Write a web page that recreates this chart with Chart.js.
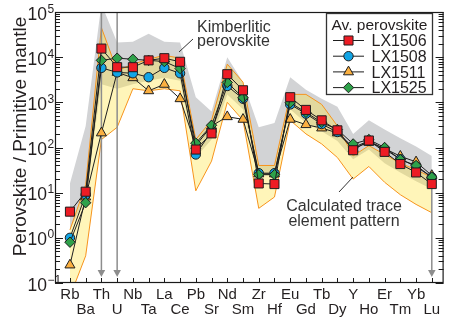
<!DOCTYPE html>
<html>
<head>
<meta charset="utf-8">
<script src="https://cdn.jsdelivr.net/npm/chart.js@4/dist/chart.umd.min.js"></script>
<style>
  html, body { margin: 0; padding: 0; background: #fff; }
  #wrap { width: 451px; height: 325px; }
</style>
</head>
<body>
<div id="wrap"><canvas id="c" width="451" height="325"></canvas></div>
<script>
// Elements in spider-diagram order (primitive-mantle normalised)
const elements = ['Rb','Ba','Th','U','Nb','Ta','La','Ce','Pb','Sr','Nd','Sm','Zr','Hf','Eu','Gd','Tb','Dy','Y','Ho','Er','Tm','Yb','Lu'];

// Average perovskite compositions
const lx1506 = [3.8, 10.5, 15500, 6000, 6000, 8500, 9500, 7900, 90, 205, 4200, 1850, 16, 15.5, 1300, 680, 400, 240, 87, 143, 80, 43, 28, 15.5];
const lx1508 = [1.0, 9, 5800, 4600, 4400, 3600, 5800, 4400, 70, 230, 2300, 1200, 27, 27, 900, 560, 330, 220, 100, 140, 92, 55, 38, 22];
const lx1511 = [0.25, 8, 210, 4600, 3500, 1800, 2500, 1200, 110, 300, 480, 420, 26, 26, 420, 320, 270, 210, 95, 130, 95, 64, 48, 24];
const lx1525 = [0.8, 6, 8500, 9500, 9000, 8500, 8000, 5600, 125, 310, 2750, 1270, 25, 25, 980, 600, 360, 250, 120, 150, 100, 54, 40, 22];

// Field of kimberlitic perovskite (upper / lower envelope)
const kimUpper = [16, 300, 150000, 21000, 22000, 33000, 22000, 21000, 1300, 630, 10000, 2800, 280, 350, 3600, 1900, 1200, 800, 200, 400, 250, 160, 105, 65];
const kimLower = [1.5, 8, 2500, 2000, 2500, 3000, 3500, 3000, 60, 150, 1500, 700, 25, 25, 700, 350, 230, 140, 55, 90, 45, 28, 18, 12];

// Calculated trace element pattern (upper / lower envelope)
const calcUpper = [1.5, 15, 45000, 5000, 7000, 9000, 11000, 9500, 150, 400, 7000, 2800, 40, 40, 1500, 1500, 900, 300, 65, 110, 70, 45, 32, 22];
const calcLower = [0.05, 0.4, 150, 280, 2000, 1800, 2000, 1800, 11, 50, 1000, 400, 4.5, 8, 400, 200, 120, 60, 20, 38, 17, 9, 5.5, 3.6];

// Decades shown on the y axis
const yExponents = [-1, 0, 1, 2, 3, 4, 5];

const FONT = "'Liberation Sans', Arial, Helvetica, sans-serif";
const pts = arr => arr.map((v, i) => ({ x: i, y: v }));

function series(label, data, style, color, radius, order) {
  return {
    label, data: pts(data), order,
    borderColor: '#1e1e1e', borderWidth: 1, tension: 0, fill: false,
    pointStyle: style, pointRadius: radius, pointHoverRadius: radius,
    pointBackgroundColor: color, pointBorderColor: '#1e1e1e', pointBorderWidth: 1
  };
}

const seriesDefs = [
  series('LX1506', lx1506, 'rect', '#ed1c24', 6.4, 1),
  series('LX1525', lx1525, 'rectRot', '#2ea14a', 5.2, 2),
  series('LX1508', lx1508, 'circle', '#12a5e6', 4.7, 3),
  series('LX1511', lx1511, 'triangle', '#fbb040', 5.8, 4)
];

const bands = [
  { label: 'kimUpper', data: pts(kimUpper), order: 20, fill: '+1', backgroundColor: '#d2d3d5',
    borderColor: 'transparent', borderWidth: 0, pointRadius: 0, tension: 0 },
  { label: 'kimLower', data: pts(kimLower), order: 19, fill: false,
    borderColor: 'transparent', borderWidth: 0, pointRadius: 0, tension: 0 },
  { label: 'calcUpper', data: pts(calcUpper), order: 18, fill: '+1', backgroundColor: 'rgba(255,228,60,0.36)',
    borderColor: '#f7941d', borderWidth: 1, pointRadius: 0, tension: 0 },
  { label: 'calcLower', data: pts(calcLower), order: 17, fill: false,
    borderColor: '#f7941d', borderWidth: 1, pointRadius: 0, tension: 0 }
];

function drawArrow(ctx, x, y0, y1) {
  ctx.save();
  ctx.strokeStyle = '#8d8d8d';
  ctx.fillStyle = '#8d8d8d';
  ctx.lineWidth = 1.5;
  ctx.beginPath();
  ctx.moveTo(x, y0);
  ctx.lineTo(x, y1 - 6);
  ctx.stroke();
  ctx.beginPath();
  ctx.moveTo(x - 3.8, y1 - 7);
  ctx.lineTo(x + 3.8, y1 - 7);
  ctx.lineTo(x, y1);
  ctx.closePath();
  ctx.fill();
  ctx.restore();
}

function drawMarker(ctx, style, color, radius, x, y) {
  ctx.save();
  ctx.fillStyle = color;
  ctx.strokeStyle = '#1e1e1e';
  ctx.lineWidth = 1;
  Chart.helpers.drawPoint(ctx, { pointStyle: style, radius, rotation: 0, borderWidth: 1 }, x, y);
  ctx.restore();
}

const decor = {
  id: 'decor',
  afterDatasetDraw(chart, args) {
    if (chart.data.datasets[args.index].label !== 'calcLower') return;
    const { ctx, chartArea: a } = chart;
    const xs = chart.scales.x, ys = chart.scales.y;
    drawArrow(ctx, xs.getPixelForValue(elements.indexOf('Th')), a.top, a.bottom - 6);
    drawArrow(ctx, xs.getPixelForValue(elements.indexOf('U')), a.top, a.bottom - 6);
    const lu = elements.indexOf('Lu');
    drawArrow(ctx, xs.getPixelForValue(lu), ys.getPixelForValue(lx1506[lu]), a.bottom - 6);
  },
  afterDraw(chart) {
    const { ctx, chartArea: a } = chart;
    const xs = chart.scales.x, ys = chart.scales.y;
    ctx.save();

    // frame
    ctx.strokeStyle = '#1a1a1a';
    ctx.lineWidth = 1.2;
    ctx.strokeRect(a.left + 0.5, a.top + 0.5, a.right - a.left - 1, a.bottom - a.top - 1);

    // y ticks on both sides, pointing inwards
    ctx.lineWidth = 1;
    ctx.beginPath();
    yExponents.forEach(e => {
      for (let k = 1; k <= 9; k++) {
        const v = k * Math.pow(10, e);
        if (v > ys.max * 1.0001) break;
        const y = Math.round(ys.getPixelForValue(v)) + 0.5;
        const len = k === 1 ? 8 : 5;
        ctx.moveTo(a.left, y); ctx.lineTo(a.left + len, y);
        ctx.moveTo(a.right, y); ctx.lineTo(a.right - len, y);
      }
    });
    // x ticks at each element
    elements.forEach((_, i) => {
      const x = Math.round(xs.getPixelForValue(i)) + 0.5;
      ctx.moveTo(x, a.bottom); ctx.lineTo(x, a.bottom - 5);
    });
    ctx.stroke();

    // y tick labels 10^n
    ctx.fillStyle = '#231f20';
    yExponents.forEach(e => {
      const y = ys.getPixelForValue(Math.pow(10, e));
      ctx.font = '17.5px ' + FONT;
      ctx.textAlign = 'right';
      ctx.textBaseline = 'alphabetic';
      ctx.fillText('10', 47, y + 7.5);
      ctx.font = '12px ' + FONT;
      ctx.textAlign = 'left';
      ctx.fillText(e < 0 ? '\u2212' + Math.abs(e) : String(e), 47.5, y + 0.5);
    });

    // x labels, alternating rows
    ctx.font = '15px ' + FONT;
    ctx.textAlign = 'center';
    elements.forEach((el, i) => {
      const x = xs.getPixelForValue(i);
      ctx.fillText(el, x, i % 2 === 0 ? 299 : 314);
    });

    // y axis title
    ctx.save();
    ctx.translate(26, (a.top + a.bottom) / 2 - 11);
    ctx.rotate(-Math.PI / 2);
    ctx.font = '19px ' + FONT;
    ctx.textAlign = 'center';
    ctx.fillText('Perovskite / Primitive mantle', 0, 0);
    ctx.restore();

    // field annotations
    ctx.fillStyle = '#333333';
    ctx.font = '16px ' + FONT;
    ctx.textAlign = 'left';
    ctx.fillText('Kimberlitic', 197, 32);
    ctx.fillText('perovskite', 197, 46);
    ctx.textAlign = 'center';
    ctx.fillText('Calculated trace', 344, 211);
    ctx.fillText('element pattern', 344, 226);
    ctx.strokeStyle = '#333333';
    ctx.lineWidth = 1;
    ctx.beginPath();
    ctx.moveTo(179, 52); ctx.lineTo(193, 39);
    ctx.moveTo(339, 192); ctx.lineTo(353, 177);
    ctx.stroke();

    // legend
    ctx.fillStyle = '#ffffff';
    ctx.fillRect(326, 13, 107, 82);
    ctx.strokeStyle = '#333333';
    ctx.lineWidth = 1.3;
    ctx.strokeRect(326.5, 13.5, 106, 81);
    ctx.fillStyle = '#231f20';
    ctx.font = '15.5px ' + FONT;
    ctx.textAlign = 'center';
    ctx.fillText('Av. perovskite', 379.5, 30);
    const order = ['LX1506', 'LX1508', 'LX1511', 'LX1525'];
    order.forEach((name, j) => {
      const d = chart.data.datasets.find(s => s.label === name);
      const y = 40.5 + j * 15.7;
      ctx.strokeStyle = '#1e1e1e';
      ctx.lineWidth = 1;
      ctx.beginPath();
      ctx.moveTo(333, y); ctx.lineTo(364, y);
      ctx.stroke();
      drawMarker(ctx, d.pointStyle, d.pointBackgroundColor, d.pointRadius, 348.5, y);
      ctx.fillStyle = '#231f20';
      ctx.font = '16px ' + FONT;
      ctx.textAlign = 'left';
      ctx.fillText(name, 371.5, y + 5.8);
    });
    ctx.restore();
  }
};

new Chart(document.getElementById('c'), {
  type: 'line',
  data: { datasets: [...bands, ...seriesDefs] },
  options: {
    responsive: false,
    animation: false,
    devicePixelRatio: 1,
    layout: { padding: { left: 55, top: 12, right: 4, bottom: 42 } },
    scales: {
      x: { type: 'linear', min: -0.95, max: 23.75, display: false },
      y: { type: 'logarithmic', min: 0.1, max: 1e5, display: false }
    },
    plugins: {
      legend: { display: false },
      tooltip: { enabled: false },
      filler: { propagate: false }
    },
    events: []
  },
  plugins: [decor]
});
</script>
</body>
</html>
